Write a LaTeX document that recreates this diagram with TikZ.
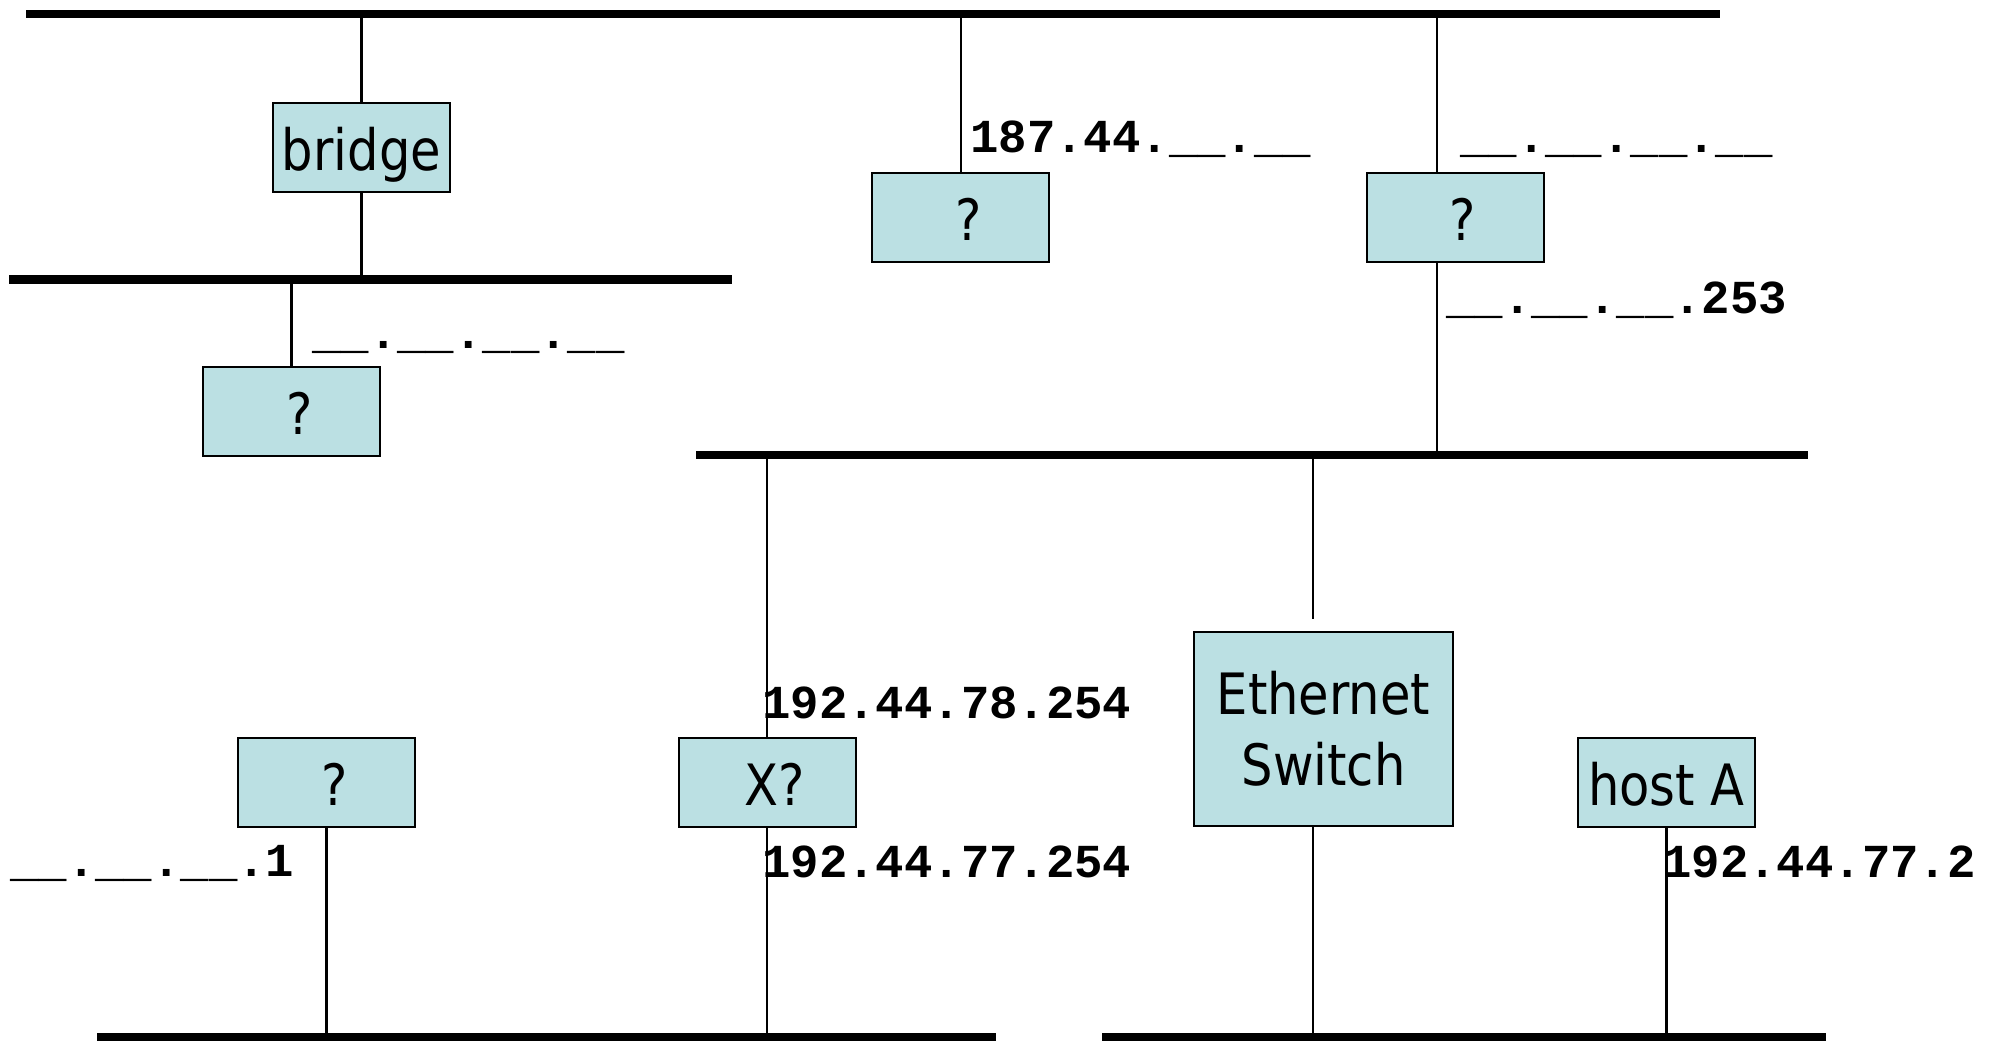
\documentclass[tikz,border=0pt]{standalone}
\usepackage{fontspec}
\setmainfont{DejaVu Sans}[FakeStretch=0.87]
\newfontfamily\ipfont{Liberation Mono}
\definecolor{boxfill}{RGB}{187,224,227}
\begin{document}
\begin{tikzpicture}[x=0.5pt,y=-0.5pt,
  bus/.style={line width=4.25pt},
  wire/.style={line width=1.1pt},
  boxbase/.style={draw=black, line width=1pt, fill=boxfill, inner sep=0pt,
    font=\fontsize{28.5}{35.5}\selectfont},
  devbox/.style={boxbase, minimum width=88.5pt, minimum height=44.5pt,
    text height=29pt, text depth=6pt},
  ip/.style={font=\ipfont\bfseries\fontsize{23.65}{28}\selectfont,
    inner sep=0pt, anchor=base west}]
\fill[white] (0,0) rectangle (1995,1040);
\useasboundingbox (0,0) rectangle (1995,1040);

% bus end points
\coordinate (t0) at (26,14);    \coordinate (t1) at (1720,14);
\coordinate (m0) at (9,279.5);  \coordinate (m1) at (732,279.5);
\coordinate (c0) at (696,455);  \coordinate (c1) at (1808,455);
\coordinate (l0) at (97,1037);  \coordinate (l1) at (996,1037);
\coordinate (r0) at (1102,1037);\coordinate (r1) at (1826,1037);

% taps on the buses
\coordinate (tb)   at (361.5,14);
\coordinate (tq2)  at (961,14);
\coordinate (tq3)  at (1437,14);
\coordinate (mbr)  at (361.5,279.5);
\coordinate (mq1)  at (291.5,279.5);
\coordinate (cq3)  at (1437,455);
\coordinate (cx)   at (767,455);
\coordinate (csw)  at (1313,455);
\coordinate (swend) at (1313,619);
\coordinate (lq4)  at (326.5,1037);
\coordinate (lx)   at (767,1037);
\coordinate (rsw)  at (1313,1037);
\coordinate (rh)   at (1666.5,1037);

% devices
\node[devbox] (bridge) at (361.5,147.5) {bridge};
\node[devbox] (q1) at (291.5,411.5) {\ ?};
\node[devbox] (q2) at (960.5,217.5) {\ ?};
\node[devbox] (q3) at (1455,217.5) {\ ?};
\node[devbox] (q4) at (326.5,782) {\ ?};
\node[devbox] (xq) at (767,782) {\ X?};
\node[boxbase, minimum width=129.5pt, minimum height=97pt, align=center]
  (sw) at (1323.5,729) {Ethernet\\Switch};
\node[devbox] (host) at (1666.5,782) {host A};

% attachments
\draw[wire] (tb) -- (bridge.north);
\draw[wire] (bridge.south) -- (mbr);
\draw[wire] (mq1) -- (q1.north);
\draw[wire] (tq2) -- (q2.north -| tq2);
\draw[wire] (tq3) -- (q3.north -| tq3);
\draw[wire] (q3.south -| tq3) -- (cq3);
\draw[wire] (cx) -- (xq.north);
\draw[wire] (xq.south) -- (lx);
\draw[wire] (csw) -- (swend);
\draw[wire] (sw.south -| csw) -- (rsw);
\draw[wire] (q4.south) -- (lq4);
\draw[wire] (host.south) -- (rh);

% segments
\draw[bus] (t0) -- (t1);
\draw[bus] (m0) -- (m1);
\draw[bus] (c0) -- (c1);
\draw[bus] (l0) -- (l1);
\draw[bus] (r0) -- (r1);

% addresses
\node[ip] (a1) at (970,152)  {187.44.\_\_.\_\_};
\node[ip] (a2) at (1460,152) {\_\_.\_\_.\_\_.\_\_};
\node[ip] (a3) at (1446,313) {\_\_.\_\_.\_\_.253};
\node[ip] (a4) at (312,348)  {\_\_.\_\_.\_\_.\_\_};
\node[ip] (a5) at (762,718)  {192.44.78.254};
\node[ip] (a6) at (762,877)  {192.44.77.254};
\node[ip] (a7) at (10,876)   {\_\_.\_\_.\_\_.1};
\node[ip] (a8) at (1663,877) {192.44.77.2};
\end{tikzpicture}
\end{document}
